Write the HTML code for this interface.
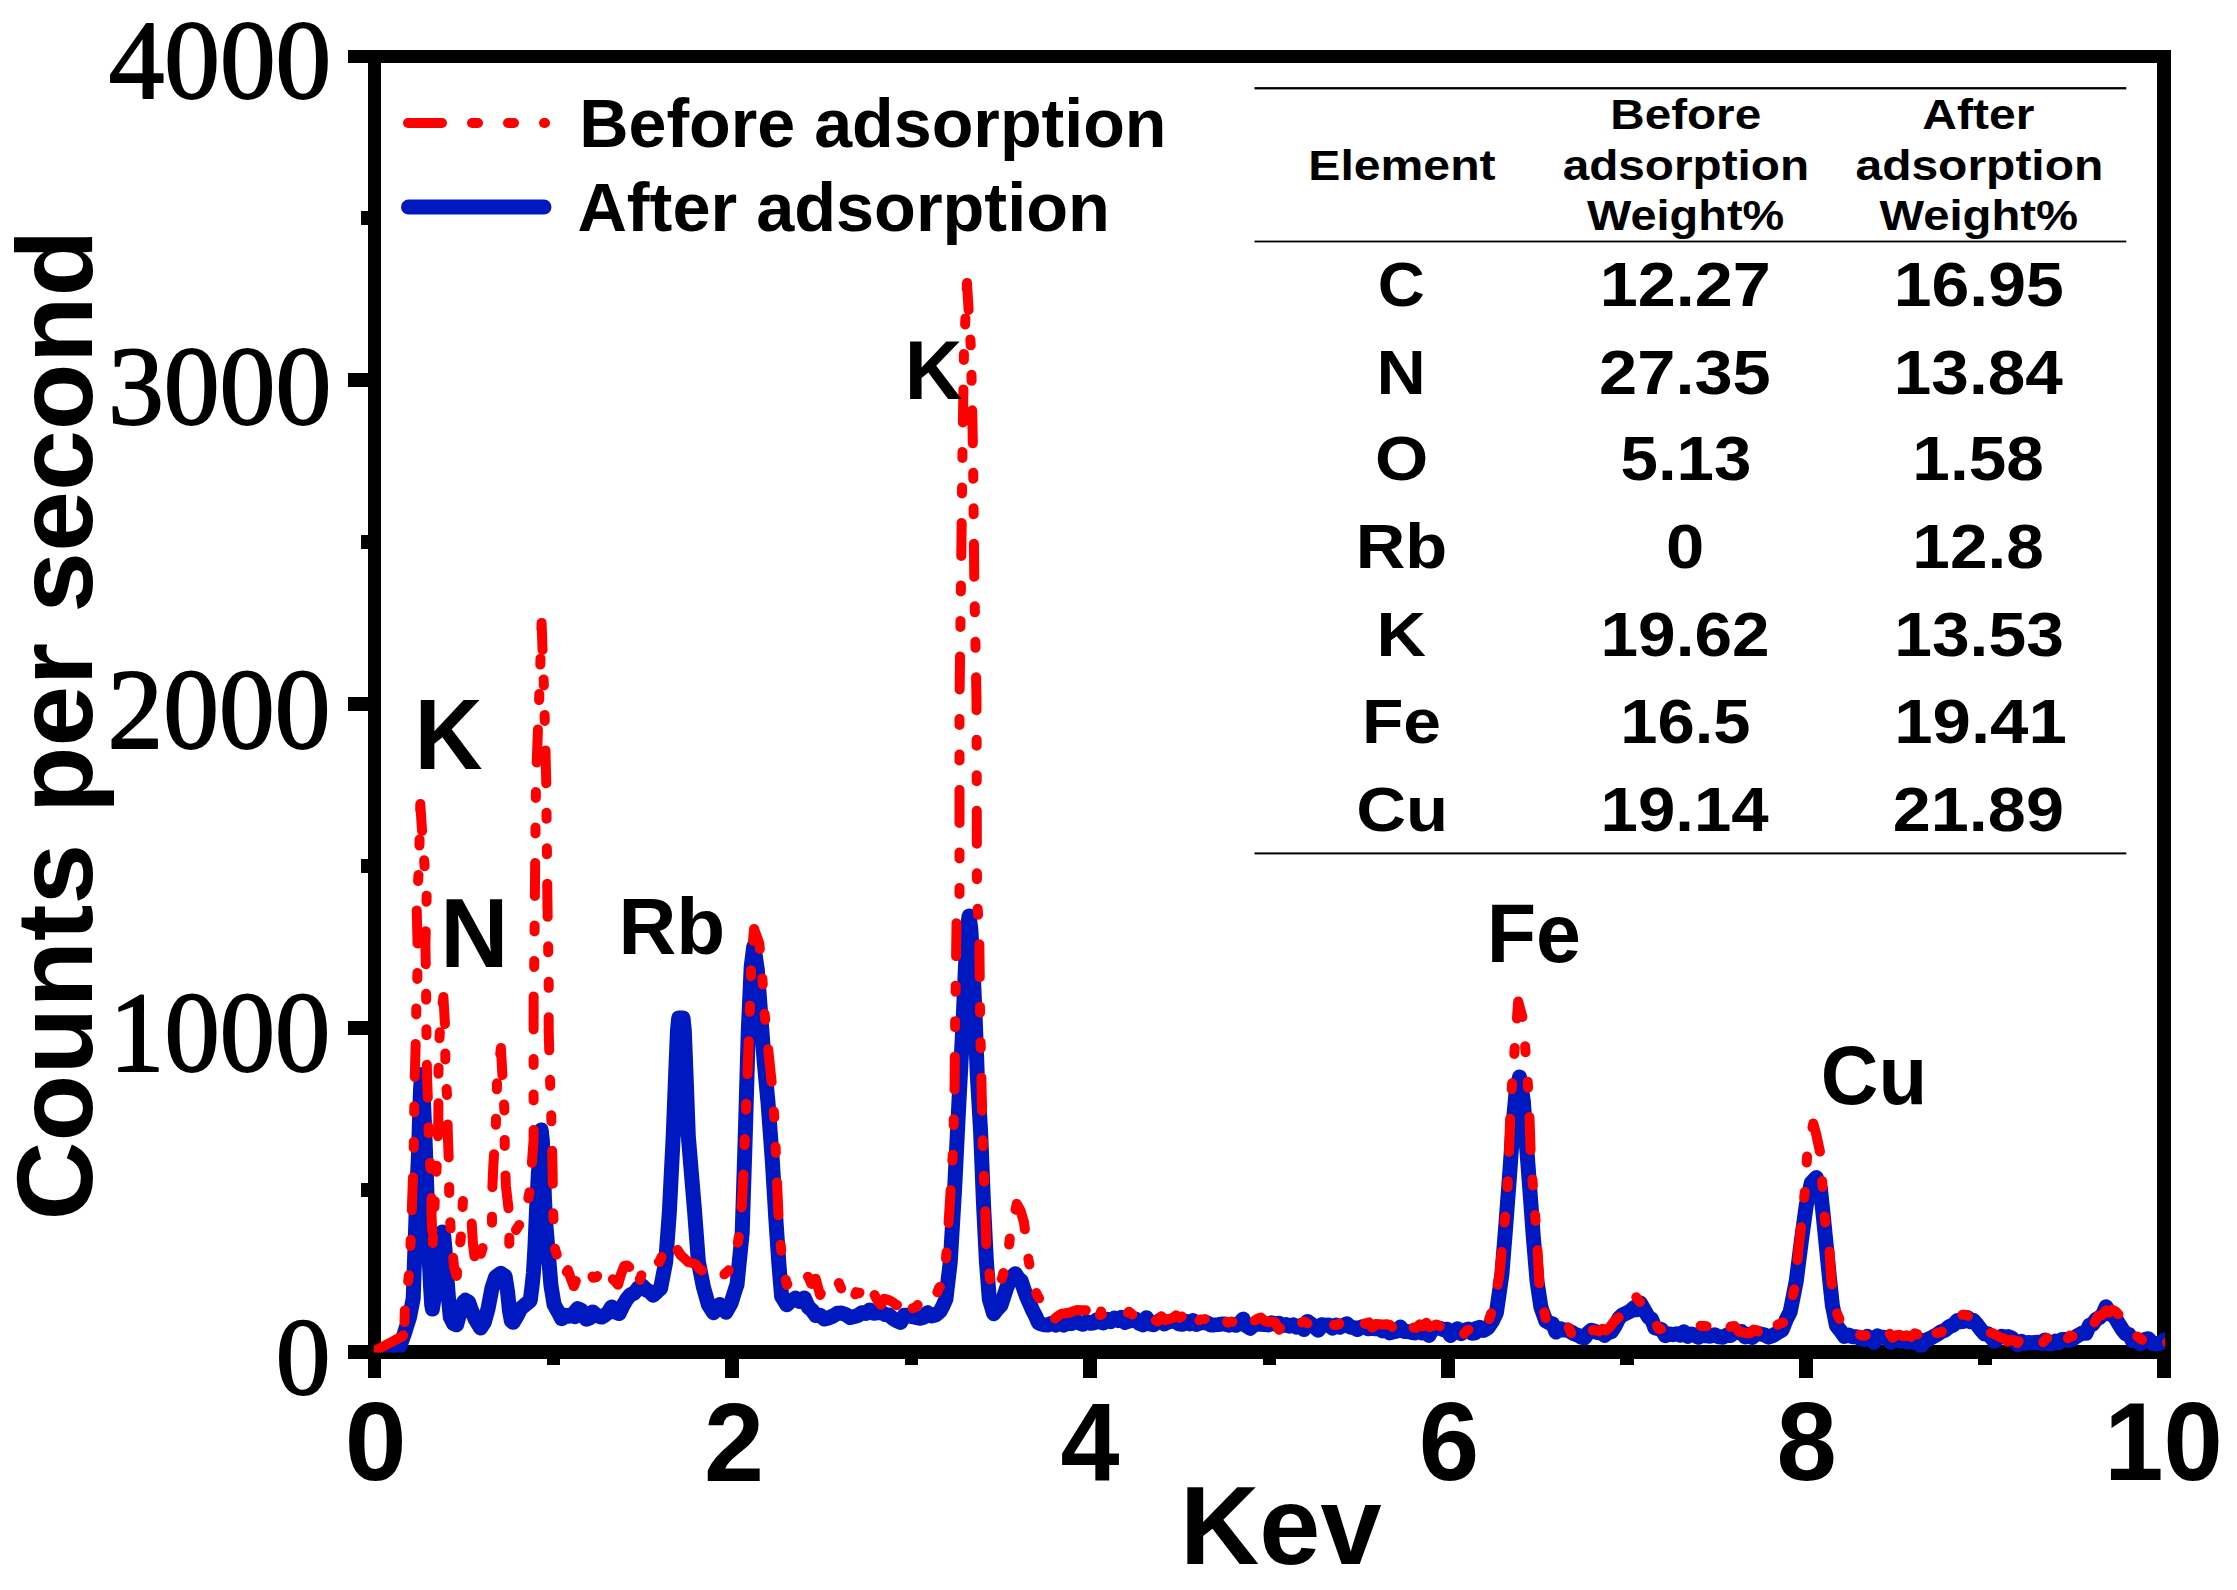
<!DOCTYPE html>
<html lang="en"><head><meta charset="utf-8"><title>EDS spectrum</title>
<style>html,body{margin:0;padding:0;background:#fff}svg{display:block}</style></head>
<body>
<svg width="2237" height="1590" viewBox="0 0 2237 1590">
<rect width="2237" height="1590" fill="#fff"/>
<defs><clipPath id="cp"><rect x="373.8" y="40" width="1791.2" height="1312.5"/></clipPath></defs>
<g fill="#000" shape-rendering="crispEdges">
<rect x="368" y="50" width="13" height="1328"/>
<rect x="2157" y="50" width="14" height="1328"/>
<rect x="348" y="50" width="1823" height="13"/>
<rect x="348" y="1345" width="1823" height="14"/>
<rect x="361" y="1183.1" width="13" height="14"/>
<rect x="348" y="1021.1" width="26" height="14"/>
<rect x="361" y="859.2" width="13" height="14"/>
<rect x="348" y="697.2" width="26" height="14"/>
<rect x="361" y="535.3" width="13" height="14"/>
<rect x="348" y="373.4" width="26" height="14"/>
<rect x="361" y="211.4" width="13" height="14"/>
<rect x="546.7" y="1352" width="13.5" height="13"/>
<rect x="725.4" y="1352" width="14" height="26"/>
<rect x="904.6" y="1352" width="13.5" height="13"/>
<rect x="1083.3" y="1352" width="14" height="26"/>
<rect x="1262.5" y="1352" width="13.5" height="13"/>
<rect x="1441.2" y="1352" width="14" height="26"/>
<rect x="1620.4" y="1352" width="13.5" height="13"/>
<rect x="1799.1" y="1352" width="14" height="26"/>
<rect x="1978.3" y="1352" width="13.5" height="13"/>
</g>
<g clip-path="url(#cp)" fill="none" stroke-linejoin="round" stroke-linecap="round">
<path d="M374.5 1354.0 L392.0 1352.5 L400.0 1346.0 L404.4 1333.6 L409.5 1317.2 L413.2 1298.4 L414.5 1260.6 L415.8 1222.9 L417.0 1185.2 L418.3 1160.0 L419.5 1120.0 L420.5 1090.0 L421.6 1074.5 L423.0 1090.0 L424.5 1125.0 L425.8 1160.0 L427.1 1197.7 L428.7 1248.1 L430.5 1285.8 L431.7 1304.7 L432.4 1309.1 L434.0 1298.4 L436.5 1273.2 L439.0 1248.1 L440.5 1236.7 L442.2 1231.9 L443.8 1236.7 L444.9 1248.1 L446.6 1273.2 L448.5 1298.4 L450.3 1317.2 L453.5 1323.5 L456.6 1324.8 L460.4 1310.9 L463.6 1302.1 L465.4 1300.3 L468.6 1302.1 L471.7 1310.9 L475.5 1319.7 L480.5 1328.0 L484.3 1322.3 L488.1 1308.4 L491.9 1288.3 L495.6 1277.0 L500.7 1273.3 L505.1 1276.2 L507.6 1292.1 L509.5 1310.9 L511.4 1321.0 L513.2 1322.3 L517.0 1316.0 L520.8 1308.4 L525.8 1304.2 L530.2 1300.6 L532.1 1285.8 L533.4 1273.2 L534.9 1248.1 L536.5 1210.3 L538.4 1172.6 L539.7 1160.0 L540.3 1140.0 L541.2 1130.0 L542.3 1140.0 L543.4 1160.0 L544.4 1197.7 L545.7 1222.9 L547.8 1248.1 L551.0 1285.8 L554.1 1304.7 L558.5 1312.6 L561.7 1318.7 L564.8 1315.3 L568.2 1316.3 L571.6 1314.5 L575.0 1316.7 L573.8 1313.5 L577.6 1308.7 L581.4 1310.4 L586.4 1319.3 L589.6 1318.1 L592.7 1312.0 L597.1 1315.7 L601.5 1317.1 L604.9 1315.2 L608.2 1312.6 L611.6 1307.0 L615.3 1312.1 L619.1 1313.6 L622.9 1305.8 L626.7 1299.3 L630.4 1294.8 L634.2 1293.1 L638.0 1288.3 L641.8 1285.4 L646.8 1290.3 L649.9 1291.8 L653.1 1295.3 L656.9 1291.7 L660.6 1288.4 L665.7 1261.9 L669.4 1211.6 L673.2 1136.1 L675.7 1073.2 L677.5 1030.4 L678.7 1017.9 L683.0 1017.9 L684.3 1030.4 L686.0 1073.2 L688.3 1136.1 L694.6 1211.6 L698.4 1261.9 L703.4 1287.0 L708.4 1304.7 L713.5 1312.7 L716.6 1309.7 L719.7 1304.5 L722.9 1308.2 L726.0 1312.2 L731.1 1303.0 L736.1 1287.0 L737.0 1284.8 L742.2 1232.7 L745.4 1131.4 L748.3 1030.2 L751.2 966.5 L753.8 946.3 L757.3 969.4 L760.8 1015.7 L764.2 1062.0 L768.0 1102.5 L772.3 1160.4 L775.8 1218.2 L778.7 1261.6 L781.6 1296.4 L786.8 1304.8 L791.1 1300.8 L795.5 1298.1 L799.8 1301.6 L804.2 1297.9 L808.5 1307.3 L812.1 1310.4 L815.7 1315.5 L820.1 1315.3 L824.4 1319.0 L828.7 1317.9 L833.1 1316.0 L837.4 1313.2 L841.8 1313.1 L846.1 1314.8 L850.4 1317.6 L854.3 1316.6 L858.2 1315.3 L862.0 1312.7 L865.9 1313.5 L869.7 1309.9 L873.6 1313.2 L877.4 1312.7 L881.3 1312.2 L885.2 1314.6 L889.0 1315.0 L892.9 1318.5 L896.7 1320.6 L900.6 1322.4 L904.4 1315.3 L908.3 1315.2 L912.2 1316.6 L916.0 1317.4 L919.9 1318.3 L923.7 1317.2 L927.6 1312.6 L931.4 1316.0 L935.8 1315.0 L940.1 1311.2 L943.0 1305.8 L945.9 1299.0 L950.3 1261.6 L954.6 1189.3 L958.9 1102.5 L962.7 1030.2 L965.6 963.6 L967.3 928.9 L969.1 915.9 L970.8 928.9 L972.8 963.6 L975.1 1015.7 L977.2 1073.6 L980.6 1131.4 L983.5 1203.8 L986.4 1261.6 L989.3 1299.2 L993.6 1313.7 L997.3 1309.1 L1000.9 1305.3 L1003.8 1296.7 L1006.7 1287.8 L1011.0 1277.7 L1015.3 1273.7 L1018.2 1278.1 L1021.1 1280.6 L1024.0 1289.3 L1026.9 1297.4 L1029.8 1303.8 L1032.7 1310.5 L1035.6 1316.0 L1038.5 1322.8 L1041.4 1324.0 L1044.3 1324.7 L1048.1 1324.9 L1052.0 1323.2 L1055.9 1325.2 L1059.7 1322.5 L1063.6 1325.2 L1067.4 1323.2 L1071.3 1323.6 L1075.1 1320.2 L1079.0 1322.7 L1082.9 1324.3 L1086.7 1321.6 L1090.6 1323.3 L1093.7 1323.1 L1096.9 1319.8 L1100.0 1322.0 L1103.6 1322.9 L1107.2 1319.4 L1110.7 1321.6 L1114.3 1318.2 L1117.9 1320.5 L1121.5 1317.2 L1125.0 1322.4 L1128.6 1321.2 L1132.2 1320.5 L1135.8 1319.2 L1139.3 1323.4 L1142.9 1324.9 L1146.5 1317.7 L1150.1 1323.9 L1153.6 1324.8 L1157.2 1322.5 L1160.8 1319.7 L1164.4 1323.9 L1167.9 1322.0 L1171.5 1321.4 L1175.1 1320.3 L1178.7 1323.8 L1182.3 1324.3 L1185.8 1321.5 L1189.4 1323.8 L1193.0 1320.4 L1196.6 1324.3 L1200.1 1322.8 L1203.7 1322.5 L1207.3 1322.9 L1210.9 1325.0 L1214.4 1324.9 L1218.0 1324.6 L1221.6 1324.1 L1225.2 1324.1 L1228.7 1325.2 L1232.3 1324.4 L1235.9 1325.3 L1239.5 1323.4 L1243.1 1319.1 L1246.6 1326.0 L1250.2 1328.3 L1253.8 1325.0 L1257.4 1324.1 L1260.9 1324.2 L1264.5 1324.5 L1268.1 1324.9 L1271.7 1322.9 L1275.2 1324.2 L1278.8 1323.2 L1282.4 1325.7 L1286.0 1324.6 L1289.5 1326.2 L1293.1 1324.9 L1296.7 1327.2 L1300.3 1325.7 L1303.8 1329.6 L1307.4 1321.4 L1311.0 1323.9 L1314.6 1327.0 L1318.2 1330.3 L1321.7 1324.7 L1325.3 1325.3 L1328.9 1325.0 L1332.5 1328.2 L1336.0 1325.2 L1339.6 1327.3 L1343.2 1325.5 L1346.8 1323.8 L1350.3 1327.1 L1353.9 1327.7 L1357.5 1329.5 L1361.1 1327.0 L1364.6 1326.3 L1368.2 1328.8 L1371.8 1328.4 L1375.4 1328.8 L1378.9 1328.4 L1382.5 1331.0 L1386.1 1329.8 L1389.7 1333.0 L1393.3 1331.8 L1396.8 1331.2 L1400.4 1327.1 L1404.0 1331.6 L1407.6 1331.4 L1411.1 1332.3 L1414.7 1333.0 L1418.3 1330.3 L1421.9 1332.9 L1425.4 1330.4 L1429.0 1335.4 L1432.6 1328.8 L1436.2 1328.0 L1439.7 1328.2 L1443.3 1329.7 L1446.9 1329.2 L1450.5 1335.4 L1454.0 1330.8 L1457.6 1328.8 L1461.2 1333.7 L1464.8 1330.3 L1468.4 1329.0 L1471.9 1333.2 L1475.5 1332.7 L1475.5 1328.6 L1479.7 1327.3 L1483.9 1330.4 L1488.1 1327.5 L1492.2 1321.4 L1496.4 1312.7 L1501.9 1274.5 L1505.9 1224.2 L1509.7 1173.8 L1513.2 1123.5 L1516.2 1090.8 L1519.5 1077.0 L1523.3 1100.9 L1525.8 1136.1 L1529.6 1186.4 L1533.3 1236.7 L1537.1 1282.0 L1540.9 1307.2 L1545.9 1321.1 L1549.3 1322.8 L1552.6 1323.9 L1556.0 1332.0 L1559.7 1328.5 L1563.5 1330.1 L1567.3 1330.1 L1571.1 1332.0 L1574.4 1334.0 L1577.8 1335.2 L1581.1 1337.2 L1584.5 1337.9 L1587.8 1333.4 L1591.2 1330.3 L1594.5 1331.1 L1597.9 1332.8 L1601.3 1331.9 L1604.6 1335.5 L1608.0 1332.3 L1611.3 1331.8 L1615.1 1326.0 L1618.9 1318.2 L1622.6 1314.8 L1626.4 1313.1 L1630.2 1311.3 L1634.0 1307.7 L1637.1 1309.7 L1640.3 1303.1 L1645.3 1311.8 L1648.4 1317.0 L1651.6 1319.2 L1654.9 1327.9 L1658.3 1328.6 L1661.6 1329.6 L1665.4 1335.7 L1669.2 1334.0 L1673.0 1334.7 L1676.7 1333.8 L1680.3 1335.1 L1683.9 1331.8 L1687.5 1336.4 L1691.1 1334.1 L1694.7 1335.1 L1698.3 1337.2 L1701.9 1335.4 L1706.1 1335.8 L1710.3 1336.2 L1714.5 1334.7 L1718.7 1336.8 L1722.9 1337.2 L1727.0 1335.0 L1730.6 1335.5 L1734.2 1332.2 L1737.8 1332.4 L1741.4 1331.5 L1745.0 1336.9 L1748.6 1334.2 L1752.2 1337.6 L1756.4 1333.3 L1760.6 1334.0 L1764.8 1335.0 L1768.4 1337.1 L1772.1 1335.9 L1775.4 1334.1 L1778.8 1331.8 L1782.1 1330.1 L1786.2 1319.7 L1790.2 1311.8 L1796.2 1281.5 L1801.3 1241.2 L1806.3 1205.0 L1811.3 1182.9 L1816.3 1177.6 L1820.4 1188.9 L1823.4 1217.1 L1826.4 1247.3 L1829.4 1277.5 L1832.4 1305.6 L1836.5 1325.8 L1840.5 1330.7 L1844.5 1336.4 L1848.5 1335.1 L1852.6 1336.7 L1856.6 1336.8 L1860.6 1338.6 L1864.0 1339.5 L1867.3 1336.3 L1870.7 1339.5 L1874.0 1342.5 L1877.4 1335.8 L1880.7 1337.2 L1884.1 1337.3 L1887.5 1338.6 L1890.8 1342.5 L1894.2 1339.5 L1897.5 1338.3 L1900.9 1341.1 L1904.2 1338.7 L1907.6 1342.1 L1910.9 1340.5 L1914.3 1342.6 L1917.6 1338.5 L1921.0 1345.9 L1925.0 1340.3 L1929.0 1339.0 L1933.1 1336.7 L1937.1 1334.5 L1941.1 1331.8 L1945.1 1330.3 L1949.2 1326.6 L1953.2 1325.2 L1957.2 1320.5 L1960.6 1321.8 L1963.9 1321.4 L1967.3 1317.5 L1970.3 1321.8 L1973.3 1320.3 L1976.3 1323.7 L1981.4 1330.3 L1984.7 1334.1 L1988.1 1333.7 L1991.4 1337.7 L1994.8 1341.2 L1998.1 1338.1 L2001.5 1336.2 L2004.9 1337.0 L2008.2 1336.6 L2011.6 1338.0 L2014.9 1341.2 L2018.3 1344.7 L2021.6 1341.5 L2025.0 1343.2 L2028.3 1342.5 L2031.7 1342.9 L2035.0 1342.4 L2038.4 1342.2 L2041.7 1343.3 L2045.1 1339.9 L2048.5 1344.0 L2051.8 1343.7 L2055.2 1341.2 L2058.5 1342.7 L2061.9 1339.5 L2065.2 1339.5 L2068.6 1340.5 L2071.9 1339.5 L2075.5 1337.1 L2079.0 1334.8 L2082.5 1333.0 L2086.0 1333.3 L2089.4 1325.4 L2092.7 1324.2 L2096.1 1319.4 L2099.4 1317.7 L2102.8 1314.4 L2106.1 1306.8 L2110.2 1314.1 L2114.2 1316.2 L2118.2 1322.8 L2122.2 1329.3 L2125.6 1333.7 L2129.0 1334.6 L2132.3 1340.5 L2136.3 1339.9 L2140.4 1343.7 L2144.4 1339.5 L2148.4 1338.7 L2152.4 1343.5 L2156.5 1344.0 L2160.5 1342.7 L2164.5 1339.9 L2167.5 1342.3 L2170.5 1344.7" stroke="#0018c0" stroke-width="15"/>
<path d="M374.5 1351.0 L403.0 1336.0 L404.5 1322.0" stroke="#ff0000" stroke-width="10" stroke-dasharray="33 29.5 6 29.5 6 29.5"/>
<path d="M404.5 1322.0 L405.0 1306.0 L409.5 1270.7 L411.4 1222.0 L413.2 1171.0 L413.9 1137.0 L414.5 1088.0 L415.8 1039.0 L416.4 1004.0 L417.9 960.0 L416.6 904.0 L419.0 867.0 L420.3 804.0 L422.9 844.0 L426.7 894.0 L425.4 945.0 L426.0 978.0 L426.4 1030.0 L427.0 1075.0 L428.3 1112.0 L429.0 1150.0 L431.5 1180.0 L431.5 1215.0 L432.7 1243.0" stroke="#ff0000" stroke-width="10" stroke-dasharray="33 29.5 6 29.5 6 29.5" stroke-dashoffset="21.5"/>
<path d="M432.7 1243.0 L435.3 1190.0 L437.8 1147.0 L438.4 1112.0 L438.4 1076.0 L439.0 1045.0 L441.0 1015.0 L443.4 997.0 L445.3 1030.0 L445.3 1070.0 L447.2 1098.0 L447.8 1135.0 L449.0 1165.0 L449.3 1205.0 L451.0 1235.0 L454.0 1267.0 L456.6 1275.7" stroke="#ff0000" stroke-width="10" stroke-dasharray="33 29.5 6 29.5 6 29.5" stroke-dashoffset="26.6"/>
<path d="M456.6 1275.7 L461.0 1235.5 L463.0 1200.0 L466.8 1201.0 L470.5 1203.3 L473.0 1244.3 L476.1 1269.4 L483.0 1246.8 L487.5 1238.0 L492.0 1236.1 L492.0 1196.5 L493.3 1166.3 L495.8 1126.0 L497.1 1080.8 L500.9 1048.0 L504.7 1116.0 L504.7 1156.0 L505.9 1186.0 L509.7 1219.0 L509.0 1257.0" stroke="#ff0000" stroke-width="10" stroke-dasharray="33 29.5 6 29.5 6 29.5" stroke-dashoffset="29.0"/>
<path d="M509.0 1257.0 L514.7 1232.0 L519.1 1225.1 L523.5 1221.9 L529.8 1191.0 L533.6 1140.0 L533.6 1055.0 L533.6 1000.0 L534.3 960.0 L535.0 880.0 L536.0 780.0 L539.5 690.0 L541.6 623.0 L544.0 690.0 L546.2 780.0 L547.4 900.0 L548.7 980.0 L548.7 1030.0 L550.0 1078.0 L551.2 1113.0 L552.5 1165.0 L553.2 1214.0 L555.0 1249.0 L563.8 1277.0 L568.0 1270.0 L570.9 1278.9 L573.8 1286.0" stroke="#ff0000" stroke-width="10" stroke-dasharray="33 29.5 6 29.5 6 29.5" stroke-dashoffset="34.5"/>
<path d="M573.8 1286.0 L578.0 1276.0 L582.6 1281.8 L586.3 1276.5 L590.0 1272.6 L593.2 1277.8 L596.5 1277.1 L599.8 1272.0 L603.0 1270.7 L607.0 1283.0 L611.6 1278.2 L614.8 1281.0 L618.0 1284.8 L621.1 1273.9 L624.2 1266.0 L627.1 1265.5 L630.0 1267.7 L633.4 1265.4 L636.7 1260.6 L640.0 1280.0 L644.0 1266.0 L649.3 1267.4 L654.0 1259.7 L659.4 1262.0 L662.2 1255.4 L665.0 1248.7 L667.9 1246.3 L670.7 1242.7 L673.9 1250.1 L677.0 1249.2 L680.8 1255.2 L684.5 1258.5 L688.2 1262.1 L692.0 1262.8 L695.8 1264.3 L699.6 1269.0 L703.3 1271.4 L707.0 1271.5 L710.9 1275.7 L714.7 1274.2 L718.1 1279.2 L721.4 1277.9 L724.8 1273.9 L728.1 1271.1 L731.5 1266.2 L734.8 1261.0 L740.5 1226.9 L743.4 1174.8 L746.3 1102.5 L749.2 1030.2 L751.5 957.9 L754.1 928.9 L759.3 943.5 L762.2 975.2 L764.2 1009.9 L768.0 1047.5 L772.3 1088.1 L774.6 1122.8 L776.7 1174.8 L778.7 1221.1 L781.6 1255.9 L786.8 1284.8 L789.7 1281.6 L792.6 1275.7 L796.2 1277.2 L799.8 1279.5 L802.7 1276.6 L805.6 1274.2 L808.5 1277.3 L811.4 1283.9 L815.7 1278.7 L820.1 1294.9 L823.7 1287.9 L827.3 1284.9 L830.2 1288.1 L833.1 1291.1 L836.0 1289.0 L838.9 1283.1 L841.8 1290.0 L844.7 1293.2 L847.5 1297.2 L850.4 1304.2 L853.3 1299.0 L856.2 1292.2 L859.1 1293.1 L862.0 1289.9 L864.9 1295.8 L867.8 1299.8 L870.7 1301.3 L873.6 1293.0 L877.2 1300.3 L880.8 1304.8 L884.4 1298.8 L888.1 1299.8 L892.4 1301.9 L896.7 1305.2 L901.1 1303.5 L905.4 1298.6 L909.0 1301.0 L912.6 1308.3" stroke="#ff0000" stroke-width="10" stroke-dasharray="33 29.5 6 29.5 6 29.5" stroke-dashoffset="63.2"/>
<path d="M912.6 1308.3 L916.3 1306.7 L919.9 1302.3 L923.5 1304.9 L927.1 1306.3 L930.0 1303.2 L932.9 1299.5 L935.8 1296.5 L938.7 1288.6 L941.6 1284.3 L944.5 1276.4 L947.4 1241.4 L951.1 1183.5 L953.1 1148.8 L954.6 1085.2 L955.2 1015.7 L956.0 966.5 L956.6 917.4 L959.5 900.0 L959.5 700.0 L961.0 581.0 L962.5 450.0 L964.0 350.0 L967.0 283.0 L971.0 350.0 L973.0 450.0 L974.3 581.0 L976.5 700.0 L977.0 900.0 L979.2 928.9 L979.8 983.9 L980.1 1018.6 L981.2 1067.8 L982.1 1117.0 L982.9 1151.7 L985.0 1200.9 L986.4 1251.5 L990.8 1284.8 L993.6 1290.4 L996.5 1297.5" stroke="#ff0000" stroke-width="10" stroke-dasharray="33 29.5 6 29.5 6 29.5" stroke-dashoffset="26.8"/>
<path d="M996.5 1297.5 L1003.8 1271.8 L1006.7 1267.4 L1010.1 1235.6 L1016.8 1203.8 L1020.4 1210.3 L1024.0 1222.2 L1028.4 1258.7 L1032.7 1284.8 L1037.0 1294.6 L1041.4 1302.5 L1044.3 1309.8 L1047.2 1314.9 L1050.8 1320.3 L1054.4 1318.8 L1058.0 1316.0 L1061.6 1313.7 L1065.5 1313.2 L1069.4 1312.7 L1073.2 1311.3 L1077.1 1310.1 L1080.9 1310.2 L1084.8 1310.3 L1088.3 1309.8 L1091.7 1309.4 L1095.2 1309.0 L1098.7 1315.9 L1102.1 1307.9 L1100.0 1315.2 L1103.8 1313.6 L1107.5 1316.7 L1111.3 1315.5 L1115.0 1317.3 L1118.5 1317.2 L1122.0 1317.2 L1125.5 1315.6 L1129.0 1311.7 L1132.5 1314.7 L1136.0 1311.3 L1139.6 1315.5 L1143.1 1316.4 L1146.6 1317.0 L1150.1 1321.2 L1153.8 1319.5 L1157.6 1321.3 L1161.3 1316.2 L1165.1 1320.2 L1168.8 1319.1 L1172.6 1318.0 L1176.0 1315.3 L1179.5 1317.9 L1182.9 1315.7 L1186.4 1315.0 L1189.8 1325.6 L1193.3 1321.4 L1196.7 1323.3 L1200.1 1319.4 L1204.3 1319.2 L1208.5 1317.2 L1212.7 1314.9 L1216.4 1318.3 L1220.2 1322.4 L1223.9 1318.3 L1227.7 1322.6 L1231.4 1321.6 L1235.2 1322.3 L1238.9 1319.4 L1242.7 1322.9 L1246.4 1318.4 L1250.2 1316.6 L1253.8 1321.1 L1257.4 1318.8 L1260.9 1317.6 L1264.5 1320.6 L1268.1 1322.2 L1271.7 1321.6 L1275.2 1322.4 L1279.0 1329.7 L1282.7 1324.8 L1286.5 1327.0 L1290.3 1321.7 L1293.8 1325.4 L1297.3 1325.7 L1300.8 1323.0 L1304.3 1321.6 L1307.8 1323.5 L1311.3 1322.4 L1314.8 1322.1 L1318.3 1325.7 L1321.8 1326.3 L1325.3 1324.6 L1328.6 1322.9 L1332.0 1324.6 L1335.3 1325.0 L1338.7 1324.4 L1342.0 1320.1 L1345.3 1322.1 L1348.7 1323.8 L1352.0 1324.7 L1355.3 1325.8 L1358.7 1325.8 L1362.0 1322.7 L1365.4 1323.9 L1368.9 1322.4 L1372.4 1327.6 L1375.9 1324.1 L1379.4 1324.3 L1382.9 1324.6 L1386.4 1324.2 L1389.9 1324.9 L1393.4 1328.1 L1396.9 1330.5 L1400.4 1335.1" stroke="#ff0000" stroke-width="10" stroke-dasharray="33 29.5 6 29.5 6 29.5" stroke-dashoffset="43.0"/>
<path d="M1400.4 1335.1 L1404.6 1332.0 L1408.8 1326.8 L1412.9 1327.5 L1416.3 1327.9 L1419.6 1324.4 L1422.9 1326.3 L1426.3 1322.8 L1429.6 1327.1 L1432.9 1325.8 L1436.5 1324.5 L1440.0 1326.2 L1443.5 1328.4 L1447.0 1327.4 L1450.5 1329.5 L1453.8 1330.3 L1457.1 1327.8 L1460.5 1329.0 L1463.8 1334.0 L1467.2 1330.3 L1470.5 1328.6 L1473.8 1329.1 L1477.0 1325.5 L1480.3 1328.4 L1483.5 1325.8 L1486.8 1325.8 L1490.6 1315.1 L1494.3 1305.0 L1499.4 1274.5 L1503.1 1236.7 L1506.9 1199.0 L1508.7 1161.3 L1510.7 1103.4 L1513.2 1068.2 L1515.7 1035.5 L1518.2 1001.5 L1523.3 1020.4 L1525.8 1055.6 L1528.3 1090.8 L1529.6 1121.0 L1530.8 1156.2 L1533.3 1191.4 L1535.8 1224.2 L1537.9 1256.9 L1539.6 1289.6 L1545.9 1319.7 L1549.3 1323.3 L1552.6 1324.2 L1556.0 1325.0 L1559.7 1325.2 L1563.5 1327.1 L1567.3 1324.4 L1571.1 1333.1 L1574.6 1326.8 L1578.1 1330.2 L1581.6 1328.0 L1585.2 1326.9 L1588.7 1330.9 L1592.2 1330.2 L1595.7 1330.3 L1599.2 1331.4 L1602.8 1328.9 L1606.3 1330.5 L1610.1 1326.7 L1613.8 1321.8 L1617.6 1318.1 L1621.4 1315.4 L1625.2 1309.8 L1628.9 1304.8 L1632.1 1297.5 L1635.2 1295.9 L1639.0 1300.9 L1642.8 1304.9 L1646.5 1310.1 L1650.7 1318.2 L1654.9 1322.4 L1659.1 1329.3 L1662.6 1328.7 L1666.2 1330.2 L1669.7 1332.3 L1673.2 1332.9 L1676.7 1336.1" stroke="#ff0000" stroke-width="10" stroke-dasharray="33 29.5 6 29.5 6 29.5" stroke-dashoffset="116.9"/>
<path d="M1676.7 1336.1 L1680.3 1333.1 L1683.9 1332.9 L1687.4 1329.3 L1691.0 1327.5 L1694.5 1327.6 L1698.1 1325.5 L1701.6 1326.0 L1705.2 1326.1 L1708.7 1326.6 L1712.2 1329.4 L1715.7 1330.0 L1719.5 1329.2 L1723.3 1327.6 L1727.0 1331.6 L1730.8 1326.4 L1734.6 1326.0 L1738.8 1331.5 L1743.0 1332.3 L1747.2 1333.3 L1750.4 1333.2 L1753.6 1329.6 L1756.8 1330.1 L1760.0 1334.1 L1764.0 1333.0 L1768.0 1329.1 L1772.1 1333.4 L1776.1 1325.5 L1780.1 1323.6 L1784.1 1322.2 L1787.2 1312.7 L1790.2 1305.2 L1795.2 1285.5 L1798.2 1251.3 L1801.3 1225.1 L1805.3 1186.9 L1807.3 1152.7 L1813.3 1123.5 L1816.3 1134.6 L1820.4 1153.7 L1822.4 1184.9 L1824.8 1219.1 L1829.4 1249.3 L1831.4 1281.5 L1835.5 1309.7 L1840.5 1321.6 L1843.9 1324.9 L1847.2 1330.2 L1850.6 1333.6 L1854.1 1331.6 L1857.6 1333.1 L1861.1 1335.4 L1864.6 1335.7 L1868.3 1334.5 L1871.9 1337.1 L1875.5 1338.0 L1879.1 1335.4 L1882.8 1338.4 L1886.1 1333.6 L1889.5 1333.6 L1892.8 1337.8 L1896.2 1335.2 L1899.5 1334.8 L1902.9 1336.3 L1906.9 1335.3 L1910.9 1337.0 L1915.0 1333.3 L1919.0 1335.1 L1922.6 1340.7 L1926.2 1334.4 L1929.9 1330.0 L1933.5 1333.7 L1937.1 1332.8 L1941.1 1332.3 L1945.1 1328.5 L1949.2 1325.5 L1953.2 1327.1 L1957.2 1322.1 L1961.2 1314.9 L1965.3 1314.7 L1969.0 1316.4 L1972.8 1321.3 L1976.6 1322.2 L1980.4 1326.9 L1983.4 1328.4 L1986.4 1331.3 L1989.4 1332.8 L1993.0 1333.3 L1996.7 1335.3 L2000.3 1337.5 L2003.9 1338.4 L2007.5 1341.6 L2010.8 1339.7 L2014.1 1340.1 L2017.3 1343.1 L2020.6 1339.0 L2024.2 1340.1 L2027.9 1338.1 L2031.5 1339.5 L2035.1 1342.9 L2038.7 1340.5 L2042.6 1342.9 L2046.4 1338.2 L2050.2 1337.7 L2054.0 1341.3 L2057.8 1338.2 L2061.9 1344.6 L2065.9 1341.1 L2069.9 1335.6 L2073.9 1336.5 L2077.5 1334.6 L2081.0 1335.0 L2084.5 1333.0 L2088.0 1333.4 L2091.4 1328.8 L2094.7 1322.2 L2098.1 1316.3 L2102.1 1315.0 L2106.1 1310.4 L2109.2 1312.5 L2112.2 1309.7 L2115.2 1311.2 L2118.9 1314.8 L2122.6 1318.8 L2126.3 1323.2 L2129.8 1328.5 L2133.3 1334.6 L2136.8 1336.2 L2140.4 1338.7 L2144.0 1341.0 L2147.7 1340.7 L2151.4 1339.1 L2155.1 1342.8 L2158.8 1345.8 L2162.5 1343.3 L2166.5 1341.9 L2170.5 1345.2" stroke="#ff0000" stroke-width="10" stroke-dasharray="33 29.5 6 29.5 6 29.5" stroke-dashoffset="70.5"/>
</g>
<g fill="none" stroke-linecap="round">
<path d="M408 123 H545" stroke="#ff0000" stroke-width="10" stroke-dasharray="34 30 6 30 6 30"/>
<path d="M408.5 207 H544" stroke="#0018c0" stroke-width="15"/>
</g>
<g fill="#000">
<rect x="1254.5" y="87.1" width="871.8" height="2.3"/>
<rect x="1254.5" y="240.6" width="871.8" height="1.8"/>
<rect x="1254.5" y="852.4" width="871.8" height="2.0"/>
</g>
<text transform="matrix(0.6821 0 0 0.6800 579.20 147.00)" font-family='"Liberation Sans", sans-serif' font-weight="bold" font-size="100" fill="#000">Before adsorption</text>
<text transform="matrix(0.6847 0 0 0.6800 577.39 230.80)" font-family='"Liberation Sans", sans-serif' font-weight="bold" font-size="100" fill="#000">After adsorption</text>
<text transform="matrix(0.9426 0 0 0.9920 414.44 768.90)" font-family='"Liberation Sans", sans-serif' font-weight="bold" font-size="100" fill="#000">K</text>
<text transform="matrix(0.9447 0 0 0.9891 440.22 966.80)" font-family='"Liberation Sans", sans-serif' font-weight="bold" font-size="100" fill="#000">N</text>
<text transform="matrix(0.8008 0 0 0.7905 618.49 954.21)" font-family='"Liberation Sans", sans-serif' font-weight="bold" font-size="100" fill="#000">Rb</text>
<text transform="matrix(0.7969 0 0 0.8305 904.72 399.00)" font-family='"Liberation Sans", sans-serif' font-weight="bold" font-size="100" fill="#000">K</text>
<text transform="matrix(0.8075 0 0 0.8287 1486.65 961.97)" font-family='"Liberation Sans", sans-serif' font-weight="bold" font-size="100" fill="#000">Fe</text>
<text transform="matrix(0.7984 0 0 0.8283 1820.81 1103.77)" font-family='"Liberation Sans", sans-serif' font-weight="bold" font-size="100" fill="#000">Cu</text>
<text transform="matrix(1.1130 0 0 1.1215 108.67 98.48)" font-family='"Liberation Serif", serif' font-weight="normal" font-size="100" fill="#000" stroke="#000" stroke-width="1.61" stroke-linejoin="round">4000</text>
<text transform="matrix(1.1170 0 0 1.1200 107.89 423.58)" font-family='"Liberation Serif", serif' font-weight="normal" font-size="100" fill="#000" stroke="#000" stroke-width="1.61" stroke-linejoin="round">3000</text>
<text transform="matrix(1.1145 0 0 1.1511 107.58 747.85)" font-family='"Liberation Serif", serif' font-weight="normal" font-size="100" fill="#000" stroke="#000" stroke-width="1.59" stroke-linejoin="round">2000</text>
<text transform="matrix(1.1061 0 0 1.1511 109.22 1070.95)" font-family='"Liberation Serif", serif' font-weight="normal" font-size="100" fill="#000" stroke="#000" stroke-width="1.59" stroke-linejoin="round">1000</text>
<text transform="matrix(1.0941 0 0 1.1052 275.80 1394.29)" font-family='"Liberation Serif", serif' font-weight="normal" font-size="100" fill="#000" stroke="#000" stroke-width="1.64" stroke-linejoin="round">0</text>
<text transform="matrix(1.1116 0 0 1.1095 344.75 1480.39)" font-family='"Liberation Sans", sans-serif' font-weight="bold" font-size="100" fill="#000">0</text>
<text transform="matrix(1.0792 0 0 1.1111 703.92 1480.50)" font-family='"Liberation Sans", sans-serif' font-weight="bold" font-size="100" fill="#000">2</text>
<text transform="matrix(1.0617 0 0 1.1200 1060.61 1480.50)" font-family='"Liberation Sans", sans-serif' font-weight="bold" font-size="100" fill="#000">4</text>
<text transform="matrix(1.0860 0 0 1.1095 1418.63 1480.39)" font-family='"Liberation Sans", sans-serif' font-weight="bold" font-size="100" fill="#000">6</text>
<text transform="matrix(1.0843 0 0 1.1095 1776.48 1480.39)" font-family='"Liberation Sans", sans-serif' font-weight="bold" font-size="100" fill="#000">8</text>
<text transform="matrix(1.0653 0 0 1.1095 2104.21 1480.39)" font-family='"Liberation Sans", sans-serif' font-weight="bold" font-size="100" fill="#000">10</text>
<text transform="matrix(1.0984 0 0 1.1183 1179.99 1563.88)" font-family='"Liberation Sans", sans-serif' font-weight="bold" font-size="100" fill="#000">Kev</text>
<text transform="matrix(0.0000 -1.0940 1.0799 0.0000 91.99 1220.38)" font-family='"Liberation Sans", sans-serif' font-weight="bold" font-size="100" fill="#000">Counts per second</text>
<text transform="matrix(0.4814 0 0 0.4250 1308.35 179.60)" font-family='"Liberation Sans", sans-serif' font-weight="bold" font-size="100" fill="#000">Element</text>
<text transform="matrix(0.4763 0 0 0.4250 1610.29 129.00)" font-family='"Liberation Sans", sans-serif' font-weight="bold" font-size="100" fill="#000">Before</text>
<text transform="matrix(0.4772 0 0 0.4250 1562.67 179.60)" font-family='"Liberation Sans", sans-serif' font-weight="bold" font-size="100" fill="#000">adsorption</text>
<text transform="matrix(0.4690 0 0 0.4250 1587.08 230.40)" font-family='"Liberation Sans", sans-serif' font-weight="bold" font-size="100" fill="#000">Weight%</text>
<text transform="matrix(0.4802 0 0 0.4250 1922.30 128.80)" font-family='"Liberation Sans", sans-serif' font-weight="bold" font-size="100" fill="#000">After</text>
<text transform="matrix(0.4798 0 0 0.4250 1855.46 179.80)" font-family='"Liberation Sans", sans-serif' font-weight="bold" font-size="100" fill="#000">adsorption</text>
<text transform="matrix(0.4728 0 0 0.4250 1879.38 230.40)" font-family='"Liberation Sans", sans-serif' font-weight="bold" font-size="100" fill="#000">Weight%</text>
<text transform="matrix(0.6504 0 0 0.6250 1377.80 306.10)" font-family='"Liberation Sans", sans-serif' font-weight="bold" font-size="100" fill="#000">C</text>
<text transform="matrix(0.6834 0 0 0.6250 1599.69 306.10)" font-family='"Liberation Sans", sans-serif' font-weight="bold" font-size="100" fill="#000">12.27</text>
<text transform="matrix(0.6791 0 0 0.6250 1893.82 306.10)" font-family='"Liberation Sans", sans-serif' font-weight="bold" font-size="100" fill="#000">16.95</text>
<text transform="matrix(0.6826 0 0 0.6250 1376.49 393.70)" font-family='"Liberation Sans", sans-serif' font-weight="bold" font-size="100" fill="#000">N</text>
<text transform="matrix(0.6861 0 0 0.6250 1599.10 393.70)" font-family='"Liberation Sans", sans-serif' font-weight="bold" font-size="100" fill="#000">27.35</text>
<text transform="matrix(0.6749 0 0 0.6250 1893.84 393.70)" font-family='"Liberation Sans", sans-serif' font-weight="bold" font-size="100" fill="#000">13.84</text>
<text transform="matrix(0.6849 0 0 0.6250 1375.06 480.00)" font-family='"Liberation Sans", sans-serif' font-weight="bold" font-size="100" fill="#000">O</text>
<text transform="matrix(0.6729 0 0 0.6250 1620.48 480.00)" font-family='"Liberation Sans", sans-serif' font-weight="bold" font-size="100" fill="#000">5.13</text>
<text transform="matrix(0.6755 0 0 0.6250 1912.34 480.00)" font-family='"Liberation Sans", sans-serif' font-weight="bold" font-size="100" fill="#000">1.58</text>
<text transform="matrix(0.6865 0 0 0.6250 1355.67 568.10)" font-family='"Liberation Sans", sans-serif' font-weight="bold" font-size="100" fill="#000">Rb</text>
<text transform="matrix(0.6884 0 0 0.6250 1666.05 568.10)" font-family='"Liberation Sans", sans-serif' font-weight="bold" font-size="100" fill="#000">0</text>
<text transform="matrix(0.6755 0 0 0.6250 1912.34 568.10)" font-family='"Liberation Sans", sans-serif' font-weight="bold" font-size="100" fill="#000">12.8</text>
<text transform="matrix(0.6853 0 0 0.6250 1376.57 655.70)" font-family='"Liberation Sans", sans-serif' font-weight="bold" font-size="100" fill="#000">K</text>
<text transform="matrix(0.6760 0 0 0.6250 1600.54 655.70)" font-family='"Liberation Sans", sans-serif' font-weight="bold" font-size="100" fill="#000">19.62</text>
<text transform="matrix(0.6779 0 0 0.6250 1894.22 655.70)" font-family='"Liberation Sans", sans-serif' font-weight="bold" font-size="100" fill="#000">13.53</text>
<text transform="matrix(0.6779 0 0 0.6250 1361.92 743.30)" font-family='"Liberation Sans", sans-serif' font-weight="bold" font-size="100" fill="#000">Fe</text>
<text transform="matrix(0.6697 0 0 0.6250 1620.18 743.30)" font-family='"Liberation Sans", sans-serif' font-weight="bold" font-size="100" fill="#000">16.5</text>
<text transform="matrix(0.6902 0 0 0.6250 1894.14 743.30)" font-family='"Liberation Sans", sans-serif' font-weight="bold" font-size="100" fill="#000">19.41</text>
<text transform="matrix(0.6892 0 0 0.6250 1356.14 830.50)" font-family='"Liberation Sans", sans-serif' font-weight="bold" font-size="100" fill="#000">Cu</text>
<text transform="matrix(0.6720 0 0 0.6250 1600.56 830.50)" font-family='"Liberation Sans", sans-serif' font-weight="bold" font-size="100" fill="#000">19.14</text>
<text transform="matrix(0.6837 0 0 0.6250 1892.81 830.50)" font-family='"Liberation Sans", sans-serif' font-weight="bold" font-size="100" fill="#000">21.89</text>
</svg>
</body></html>
